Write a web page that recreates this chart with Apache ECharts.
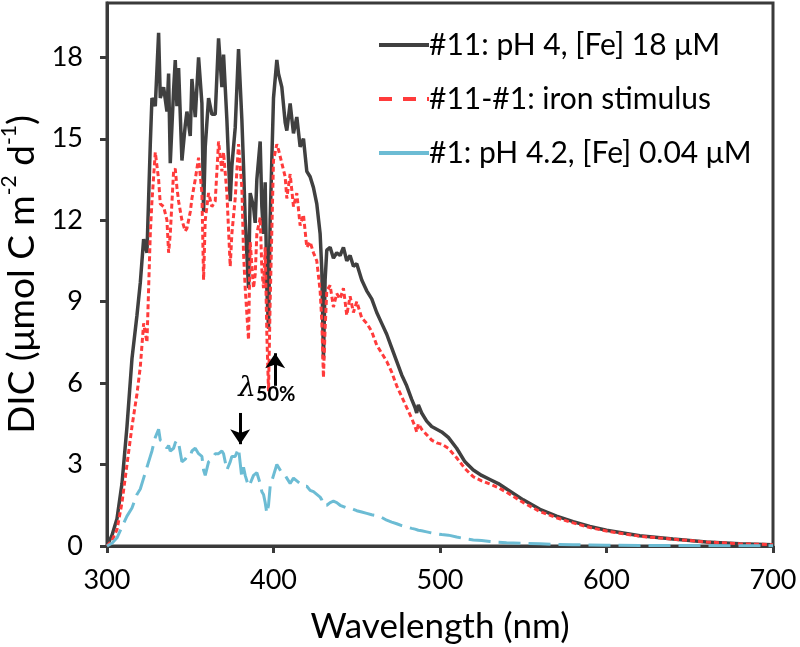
<!DOCTYPE html>
<html><head><meta charset="utf-8">
<script src="https://cdn.jsdelivr.net/npm/echarts@6/dist/echarts.min.js"></script>
<style>html,body{margin:0;padding:0;background:#fff}#c{width:800px;height:647px}</style>
</head><body><div id="c"></div>
<script>
const wavelengths = [300,303,306,309,312,315,318,320,322,324,
326,327,329,331,332,334,336,337,338,340,
341,342,343,345,347,348,350,351,353,355,
357,358,359,361,363,365,367,369,370,372,
374,375,377,379,381,382,383,385,386,388,
389,390,392,393,394,395,396,397,398,400,
402,403,405,407,408,410,412,414,416,418,
420,422,424,426,428,429,430,431,432,434,
436,438,440,442,444,446,448,450,453,456,
459,462,465,468,471,474,477,480,483,485,
486,487,489,492,495,498,501,505,510,515,
520,525,530,535,540,550,560,570,580,590,
600,620,640,660,680,700];
const iron11 = [0,0.4,1.0,2.3,4.4,6.9,8.5,9.7,11.3,10.8,
14.8,16.5,16.2,18.9,16.5,16.9,16.0,17.4,14.1,16.8,
17.9,16.2,17.6,14.2,15.5,16.0,15.1,17.2,15.8,18.0,
16.3,12.3,14.7,16.5,15.9,15.9,18.7,16.9,18.1,15.7,
12.7,14.0,15.4,18.3,15.7,14.0,12.0,9.5,13.0,12.5,
11.9,13.5,14.9,12.5,11.5,13.4,9.5,8.0,12.0,16.5,
17.9,17.4,16.9,15.6,15.3,16.3,15.2,15.8,14.7,15.0,
13.8,13.6,13.2,12.6,11.5,10.2,6.9,9.8,10.9,11.0,
10.6,10.8,10.7,11.0,10.5,10.7,10.3,10.4,9.8,9.4,
9.1,8.6,8.2,7.8,7.3,6.8,6.3,5.9,5.4,5.1,
4.9,5.2,4.9,4.6,4.4,4.3,4.2,4.0,3.6,3.1,
2.8,2.6,2.45,2.3,2.1,1.7,1.35,1.1,0.9,0.72,
0.58,0.38,0.26,0.15,0.08,0.05];
const stimulus = [0,0.2,0.6,1.6,3.0,4.4,5.6,6.6,8.2,7.5,
11.5,12.7,14.5,13.5,12.6,12.5,12.0,10.8,11.5,13.8,
13.9,13.2,12.7,12.0,11.6,11.7,12.3,12.8,13.5,14.3,
13.0,9.8,12.0,13.0,12.5,12.7,14.9,13.8,14.5,13.0,
10.3,11.5,12.8,14.8,13.2,10.8,9.5,7.6,11.2,9.5,
10.0,11.5,12.1,10.2,9.5,11.0,7.8,5.7,9.0,14.2,
14.8,14.6,14.1,13.6,12.8,13.7,12.5,13.0,11.8,12.2,
11.0,11.2,10.8,10.5,9.4,8.3,6.2,8.0,9.4,9.6,
8.8,9.3,9.1,9.5,8.5,9.2,8.6,9.0,8.4,8.2,
7.9,7.4,7.1,6.8,6.4,5.9,5.5,5.1,4.7,4.4,
4.2,4.5,4.3,4.1,3.9,3.8,3.75,3.6,3.25,2.85,
2.55,2.4,2.28,2.15,1.98,1.6,1.27,1.04,0.85,0.68,
0.55,0.36,0.25,0.15,0.08,0.05];
const iron1 = [0,0.1,0.3,0.7,1.1,1.4,1.9,2.1,2.5,2.9,
3.3,3.5,4.0,4.3,3.9,3.8,3.6,3.7,3.5,3.6,
3.8,3.9,3.8,3.1,3.2,3.3,3.3,3.5,3.6,3.4,
3.3,2.8,2.6,3.1,3.2,3.4,3.4,3.5,3.4,2.8,
3.1,3.3,3.3,3.6,2.5,2.9,2.6,2.2,2.3,2.6,
2.6,2.7,2.3,2.0,1.9,1.6,1.2,1.5,2.2,2.6,
3.0,2.9,2.7,2.6,2.5,2.3,2.5,2.4,2.3,2.2,
2.2,2.05,2.0,1.9,1.8,1.7,1.5,1.45,1.5,1.6,
1.65,1.6,1.5,1.45,1.4,1.4,1.35,1.3,1.25,1.2,
1.15,1.12,1.05,0.95,0.88,0.82,0.75,0.7,0.65,0.62,
0.6,0.58,0.56,0.52,0.48,0.45,0.42,0.4,0.33,0.27,
0.22,0.2,0.17,0.14,0.12,0.1,0.08,0.06,0.05,0.04,
0.03,0.02,0.02,0.01,0.01,0.01];
const yTicks = [0,3,6,9,12,15,18];
const xTicks = [300,400,500,600,700];
const seriesNames = ['#11: pH 4, [Fe] 18 μM', '#11-#1: iron stimulus', '#1: pH 4.2, [Fe] 0.04 μM'];
// annotation anchors (data coordinates)
const lambdaArrowDown = [[380, 4.9], [380, 3.75]];
const lambdaArrowUp = [[401, 5.9], [401, 7.1]];
const lambdaLabelAt = [396, 5.75];

const zip = (xs, ys) => xs.map((x, i) => [x, ys[i]]);
const FONT = 'Lato';
const AX = '#3a3a3a';

const chart = echarts.init(document.getElementById('c'), null, {renderer: 'canvas'});
chart.setOption({
  animation: false,
  backgroundColor: '#fff',
  textStyle: {fontFamily: FONT},
  grid: {left: 107, right: 27, top: 3, bottom: 101, show: true, borderColor: AX, borderWidth: 3,
         containLabel: false, outerBoundsMode: 'none'},
  legend: {
    orient: 'vertical', left: 372, top: 25, itemGap: 24, itemWidth: 50, itemHeight: 14,
    textStyle: {fontFamily: FONT, fontSize: 30, color: '#000', padding: [0, 0, 0, -5]},
    data: [
      {name: seriesNames[0], itemStyle: {opacity: 0}, lineStyle: {type: 'solid', width: 4}},
      {name: seriesNames[1], itemStyle: {opacity: 0}, lineStyle: {type: [13, 11], width: 4}},
      {name: seriesNames[2], itemStyle: {opacity: 0}, lineStyle: {type: 'solid', width: 4}}
    ]
  },
  xAxis: {
    type: 'value', min: 300, max: 700, interval: 100,
    name: 'Wavelength (nm)', nameLocation: 'middle', nameGap: 63,
    nameTextStyle: {fontFamily: FONT, fontSize: 35, color: '#000'},
    axisLine: {show: true, onZero: false, lineStyle: {color: AX, width: 3}},
    axisTick: {show: true, inside: false, length: 7, lineStyle: {color: AX, width: 3}, customValues: xTicks},
    axisLabel: {fontFamily: FONT, fontSize: 27, color: '#000', margin: 21, customValues: xTicks},
    splitLine: {show: false}
  },
  yAxis: {
    type: 'value', min: 0, max: 20, interval: 3,
    name: '{b|DIC (μmol C m}{s|-2}{b| d}{s|-1}{b|)}', nameLocation: 'middle', nameGap: 53, nameRotate: 90,
    nameTextStyle: {fontFamily: FONT, fontSize: 37, color: '#000',
      rich: {b: {fontFamily: FONT, fontSize: 37, color: '#000', lineHeight: 42, verticalAlign: 'bottom'},
             s: {fontFamily: FONT, fontSize: 21, color: '#000', lineHeight: 42, verticalAlign: 'top'}}},
    axisLine: {show: true, lineStyle: {color: AX, width: 3}},
    axisTick: {show: true, inside: false, length: 7, lineStyle: {color: AX, width: 3}, customValues: yTicks},
    axisLabel: {fontFamily: FONT, fontSize: 27, color: '#000', margin: 24, customValues: yTicks},
    splitLine: {show: false}
  },
  series: [
    {name: seriesNames[0], type: 'line', data: zip(wavelengths, iron11), showSymbol: false, symbol: 'none',
     lineStyle: {color: '#404040', width: 3.5}, itemStyle: {color: '#404040'}, z: 2},
    {name: seriesNames[1], type: 'line', data: zip(wavelengths, stimulus), showSymbol: false, symbol: 'none',
     lineStyle: {color: '#ff3b3b', width: 3, type: [5, 3]}, itemStyle: {color: '#ff3b3b'}, z: 3},
    {name: seriesNames[2], type: 'line', data: zip(wavelengths, iron1), showSymbol: false, symbol: 'none',
     lineStyle: {color: '#6cbcd4', width: 3, type: [22, 8]}, itemStyle: {color: '#6cbcd4'}, z: 4,
     markLine: {
       silent: true, animation: false, symbol: ['none', 'arrow'], symbolSize: [15, 15],
       label: {show: false},
       lineStyle: {color: '#000', width: 3, type: 'solid'},
       data: [
         [{coord: lambdaArrowDown[0]}, {coord: lambdaArrowDown[1]}],
         [{coord: lambdaArrowUp[0]}, {coord: lambdaArrowUp[1]}]
       ]
     },
     markPoint: {
       silent: true, symbol: 'circle', symbolSize: 0,
       data: [{coord: lambdaLabelAt}],
       label: {show: true, position: 'inside', formatter: '{l|λ}{s|50%}',
         rich: {l: {fontFamily: 'DejaVu Serif', fontStyle: 'italic', fontSize: 28, color: '#000', verticalAlign: 'top', lineHeight: 30},
                s: {fontFamily: FONT, fontWeight: 'bold', fontSize: 20, color: '#000', verticalAlign: 'bottom', lineHeight: 30, padding: [12, 0, 0, 0]}}}
     }}
  ]
});
</script>
</body></html>
